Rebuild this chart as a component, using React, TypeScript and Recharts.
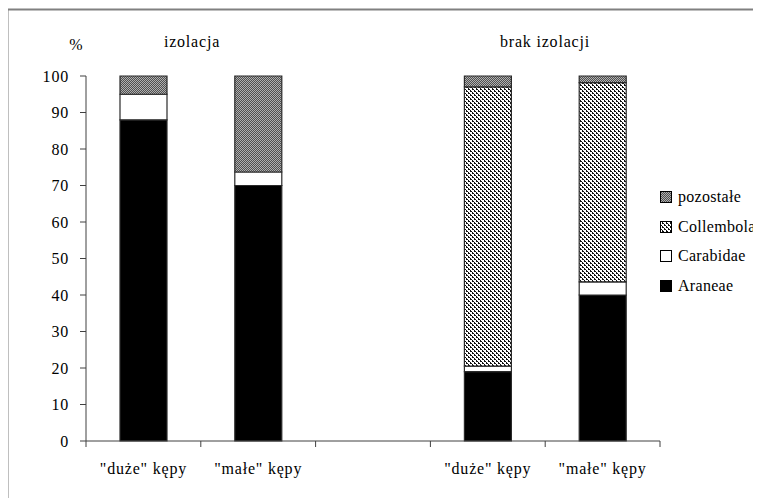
import React from 'react';
import { BarChart, Bar, XAxis, YAxis, Legend } from 'recharts';

// ---- data ----
const categoryKeys = ['iz_duze', 'iz_male', 'gap', 'brak_duze', 'brak_male'];
const categoryLabels = ['"duże" kępy', '"małe" kępy', '', '"duże" kępy', '"małe" kępy'];
const araneae = [88, 70, 0, 19, 40];
const carabidae = [7, 3.7, 0, 1.5, 3.6];
const collembola = [0, 0, 0, 76.5, 54.6];
const pozostale = [5, 26.3, 0, 3, 1.8];
const yTicks = [0, 10, 20, 30, 40, 50, 60, 70, 80, 90, 100];
const seriesKeys = ['araneae', 'carabidae', 'collembola', 'pozostale'];
const seriesNames = ['Araneae', 'Carabidae', 'Collembola', 'pozostałe'];
const seriesFills = ['#000000', '#ffffff', 'url(#patCollembola)', 'url(#patPozostale)'];
const groupTitles = ['izolacja', 'brak izolacji'];
const yUnit = '%';

const data = categoryKeys.map((k, i) => ({
  key: k,
  araneae: araneae[i],
  carabidae: carabidae[i],
  collembola: collembola[i],
  pozostale: pozostale[i],
}));

const FONT = 'Liberation Serif';
const CHART_W = 753;
const CHART_H = 489;
const MARGIN = { top: 67, right: 101, bottom: 17, left: 18 };
const Y_W = 60;
const X_H = 40;
const PLOT_W = CHART_W - MARGIN.left - MARGIN.right - Y_W;
const BAND = PLOT_W / categoryKeys.length;

function XTick(props: any) {
  const { x, y, index } = props;
  const label = categoryLabels[index] ?? '';
  const isLast = index === categoryKeys.length - 1;
  return (
    <g>
      <line x1={x - BAND / 2} x2={x - BAND / 2} y1={y} y2={y + 6} stroke="#404040" strokeWidth={1} />
      {isLast && (
        <line x1={x + BAND / 2} x2={x + BAND / 2} y1={y} y2={y + 6} stroke="#404040" strokeWidth={1} />
      )}
      <text
        x={x}
        y={y + 33}
        textAnchor="middle"
        style={{ fontFamily: FONT, fontSize: 16, letterSpacing: 0.8 }}
        fill="#000"
      >
        {label}
      </text>
    </g>
  );
}

function LegendContent() {
  const order = [3, 2, 1, 0];
  return (
    <div style={{ fontFamily: FONT, fontSize: 16, color: '#000', whiteSpace: 'nowrap' }}>
      {order.map((i) => (
        <div key={seriesKeys[i]} style={{ height: 29.7, display: 'flex', alignItems: 'center' }}>
          <svg width={12} height={12} style={{ display: 'block', marginRight: 6 }}>
            <rect x={0.5} y={0.5} width={11} height={11} fill={seriesFills[i]} stroke="#000" strokeWidth={1} />
          </svg>
          <span style={{ letterSpacing: 0.3 }}>{seriesNames[i]}</span>
        </div>
      ))}
    </div>
  );
}

export default function App() {
  return (
    <div style={{ position: 'relative', width: CHART_W, height: 490, fontFamily: FONT }}>
      <svg
        width={761}
        height={498}
        style={{ position: 'absolute', left: -8, top: -8, pointerEvents: 'none', zIndex: 2 }}
      >
        <defs>
          <pattern id="patPozostale" patternUnits="userSpaceOnUse" width={2} height={2}>
            <rect x={0} y={0} width={2} height={2} fill="#b0b0b0" />
            <rect x={0} y={0} width={1} height={1} fill="#505050" />
            <rect x={1} y={1} width={1} height={1} fill="#505050" />
          </pattern>
          <pattern id="patCollembola" patternUnits="userSpaceOnUse" width={4} height={4}>
            <rect x={0} y={0} width={4} height={4} fill="#ffffff" />
            <rect x={0} y={0} width={2} height={1} fill="#111111" />
            <rect x={2} y={1} width={1} height={1} fill="#111111" />
            <rect x={2} y={2} width={2} height={1} fill="#111111" />
            <rect x={0} y={3} width={1} height={1} fill="#111111" />
          </pattern>
        </defs>
        <line x1={7} x2={761} y1={9.5} y2={9.5} stroke="#808080" strokeWidth={2} />
        <line x1={7.5} x2={7.5} y1={9} y2={498} stroke="#808080" strokeWidth={2} />
        <text x={76} y={50} textAnchor="middle" style={{ fontFamily: FONT, fontSize: 16 }} fill="#000">
          {yUnit}
        </text>
        <text x={192} y={47} textAnchor="middle" style={{ fontFamily: FONT, fontSize: 16, letterSpacing: 0.8 }} fill="#000">
          {groupTitles[0]}
        </text>
        <text x={545} y={47} textAnchor="middle" style={{ fontFamily: FONT, fontSize: 16, letterSpacing: 0.8 }} fill="#000">
          {groupTitles[1]}
        </text>
      </svg>
      <div style={{ position: 'absolute', left: 0, top: 1 }}>
        <BarChart width={CHART_W} height={CHART_H} data={data} margin={MARGIN} style={{ fontFamily: FONT }}>
          <XAxis
            dataKey="key"
            type="category"
            height={X_H}
            interval={0}
            tickLine={false}
            tickSize={0}
            tickMargin={0}
            axisLine={{ stroke: '#404040', strokeWidth: 1 }}
            tick={<XTick />}
          />
          <YAxis
            type="number"
            width={Y_W}
            domain={[0, 100]}
            ticks={yTicks}
            interval={0}
            tickSize={6}
            tickMargin={11}
            axisLine={{ stroke: '#404040', strokeWidth: 1 }}
            tickLine={{ stroke: '#404040', strokeWidth: 1 }}
            tick={{ fill: '#000', fontSize: 16, fontFamily: FONT, letterSpacing: 0.8, style: { fontFamily: FONT } }}
          />
          <Legend
            layout="vertical"
            align="center"
            verticalAlign="middle"
            wrapperStyle={{ left: 652, top: 173, width: 101 }}
            content={<LegendContent />}
          />
          {seriesKeys.map((k, i) => (
            <Bar
              key={k}
              dataKey={k}
              name={seriesNames[i]}
              stackId="a"
              barSize={47}
              fill={seriesFills[i]}
              stroke="#2a2a2a"
              strokeWidth={1.2}
              isAnimationActive={false}
            />
          ))}
        </BarChart>
      </div>
    </div>
  );
}
